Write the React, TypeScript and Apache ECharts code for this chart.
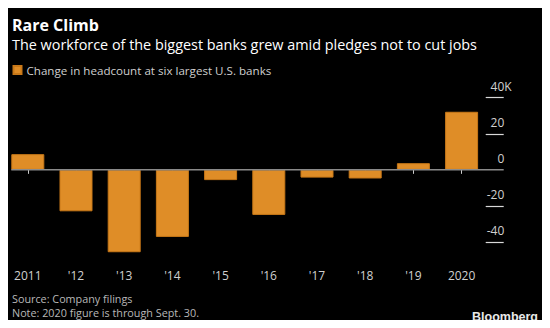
import React, { useEffect, useRef } from "react";
import * as echarts from "echarts";

const categories = ["2011", "'12", "'13", "'14", "'15", "'16", "'17", "'18", "'19", "2020"];
const headcountChange = [8.7, -23, -45.7, -37.2, -5.7, -25, -4.3, -4.8, 3.7, 32.2];
const yLabelValues = [-40, -20, 0, 20, 40];
const yTickValues = [-40, -20, 20, 40];
const seriesName = "Change in headcount at six largest U.S. banks";

const FONT = "Open Sans";
const ORANGE = "#df8d27";

export default function App() {
  const ref = useRef<HTMLDivElement>(null);
  useEffect(() => {
    if (!ref.current) return;
    const chart = echarts.init(ref.current, null, { renderer: "svg" });
    const barWidth = 33;
    chart.setOption({
      animation: false,
      backgroundColor: "#000000",
      textStyle: { fontFamily: FONT },
      grid: { left: 3.7, right: 64.3, top: 97.7, bottom: 68 },
      legend: {
        left: 12.5,
        top: 64,
        padding: 0,
        itemWidth: 8,
        itemHeight: 8,
        icon: "rect",
        textStyle: { color: "#cfcfcf", fontSize: 11.6, fontFamily: FONT },
        data: [seriesName],
      },
      xAxis: {
        type: "category",
        data: categories,
        axisLine: { show: false },
        axisTick: { show: true, alignWithLabel: true, length: 4, lineStyle: { color: "#cccccc", width: 1 } },
        axisLabel: { color: "#d0d0d0", fontSize: 12, margin: 9, fontFamily: FONT },
        splitLine: { show: false },
      },
      yAxis: {
        type: "value",
        position: "right",
        min: -50,
        max: 40,
        interval: 10,
        axisLine: { show: false },
        splitLine: { show: false },
        axisTick: {
          show: true,
          inside: false,
          length: 18,
          customValues: yTickValues,
          lineStyle: { color: "#d8d8d8", width: 1.2 },
        },
        axisLabel: {
          customValues: yLabelValues,
          color: "#d0d0d0",
          fontSize: 12,
          fontFamily: FONT,
          align: "right",
          verticalAlign: "bottom",
          margin: 26,
          padding: [0, 0, 5, 0],
          formatter: (v: number) => (v === 40 ? `${v}{k|K}` : `${v}{h|K}`),
          rich: {
            k: { color: "#d0d0d0", fontSize: 12, fontFamily: FONT },
            h: { color: "rgba(0,0,0,0)", fontSize: 12, fontFamily: FONT },
          },
        },
      },
      series: [
        {
          name: seriesName,
          type: "bar",
          data: headcountChange,
          barWidth,
          itemStyle: { color: ORANGE, borderColor: "#c87818", borderWidth: 1 },
        },
      ],
      graphic: [
        {
          type: "text",
          x: 12,
          y: 25,
          style: {
            text: "Rare Climb",
            fill: "#ffffff",
            font: `bold 16px "${FONT}"`,
            verticalAlign: "middle",
            align: "left",
          },
        },
        {
          type: "text",
          x: 12,
          y: 44,
          style: {
            text: "The workforce of the biggest banks grew amid pledges not to cut jobs",
            fill: "#ffffff",
            font: `14.4px "${FONT}"`,
            verticalAlign: "middle",
            align: "left",
          },
        },
        {
          type: "text",
          x: 12,
          y: 298.2,
          style: {
            text: "Source: Company filings",
            fill: "#b8b8b8",
            font: `10.8px "${FONT}"`,
            verticalAlign: "middle",
            align: "left",
          },
        },
        {
          type: "text",
          x: 12,
          y: 312,
          style: {
            text: "Note: 2020 figure is through Sept. 30.",
            fill: "#b8b8b8",
            font: `10.8px "${FONT}"`,
            verticalAlign: "middle",
            align: "left",
          },
        },
        {
          type: "text",
          x: 538,
          y: 316.7,
          style: {
            text: "Bloomberg",
            fill: "#e8e8e8",
            font: `bold 12.5px "Liberation Sans"`,
            verticalAlign: "middle",
            align: "right",
          },
        },
      ],
    });

    // zero line from left edge of first bar to end of y-axis ticks
    const p0 = chart.convertToPixel({ xAxisIndex: 0 }, categories[0]) as number;
    const p1 = chart.convertToPixel({ xAxisIndex: 0 }, categories[1]) as number;
    const pLast = chart.convertToPixel({ xAxisIndex: 0 }, categories[categories.length - 1]) as number;
    const step = p1 - p0;
    const y0 = chart.convertToPixel({ yAxisIndex: 0 }, 0) as number;
    const x1 = p0 - barWidth / 2;
    const x2 = pLast + step / 2 + 18;
    chart.setOption({
      graphic: [
        {
          type: "line",
          id: "zero",
          z: 100,
          shape: { x1, y1: y0, x2, y2: y0 },
          style: { stroke: "#8a8a8a", lineWidth: 1.5 },
        },
      ],
    });

    return () => chart.dispose();
  }, []);
  return <div ref={ref} style={{ width: 550, height: 328, margin: -8 }} />;
}
